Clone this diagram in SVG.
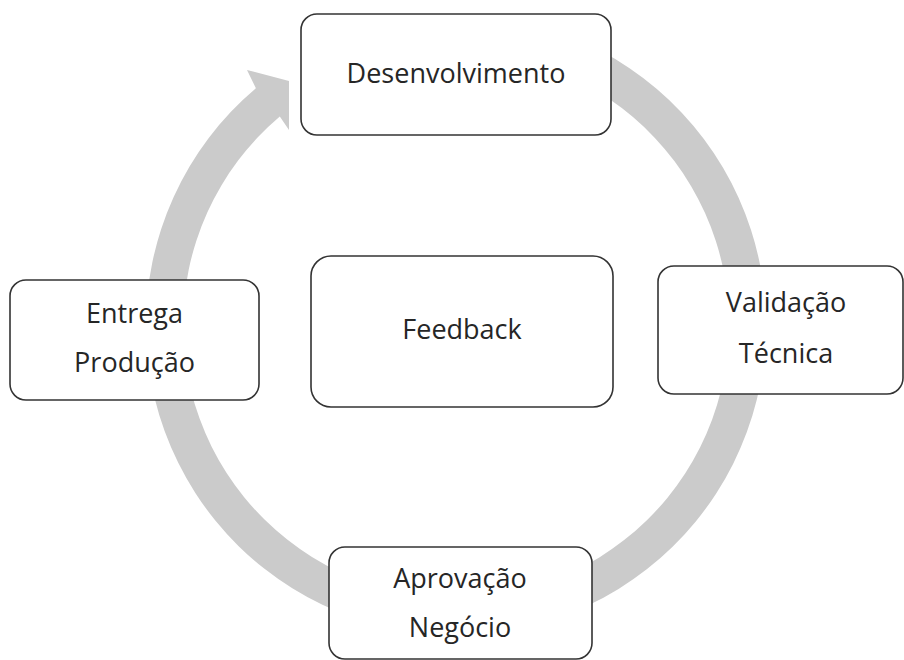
<svg xmlns="http://www.w3.org/2000/svg" width="904" height="660" viewBox="0 0 904 660">
  <style>
    .node rect { fill: #ffffff; stroke: #333333; stroke-width: 1.6; }
    .node text { font-family: "Open Sans", "Noto Sans", "DejaVu Sans", sans-serif; font-size: 27px; fill: #262626; text-anchor: middle; }
    .ring { fill: #cbcbcb; stroke: none; }
  </style>
  <rect width="904" height="660" fill="#ffffff"/>
  <g id="connectors">
    <path class="ring" d="M 536.2 25.6 A 310 310 0 1 1 255.9 88.2 L 247 70 L 289 81 L 289 130 L 279.8 116.5 A 273 273 0 1 0 526.7 61.3 Z"/>
  </g>
  <g id="node-desenvolvimento" class="node">
    <rect x="301" y="14" width="310" height="121" rx="16"/>
    <text x="456" y="83">Desenvolvimento</text>
  </g>
  <g id="node-feedback" class="node">
    <rect x="311" y="256" width="302" height="151" rx="20"/>
    <text x="462" y="339">Feedback</text>
  </g>
  <g id="node-validacao" class="node">
    <rect x="658" y="266" width="245" height="128" rx="16"/>
    <text x="786" y="312">Validação</text>
    <text x="786" y="363">Técnica</text>
  </g>
  <g id="node-entrega" class="node">
    <rect x="10" y="280" width="249" height="120" rx="16"/>
    <text x="134.5" y="323">Entrega</text>
    <text x="134.5" y="372">Produção</text>
  </g>
  <g id="node-aprovacao" class="node">
    <rect x="329" y="547" width="263" height="112" rx="16"/>
    <text x="460" y="588">Aprovação</text>
    <text x="460" y="637">Negócio</text>
  </g>
</svg>
